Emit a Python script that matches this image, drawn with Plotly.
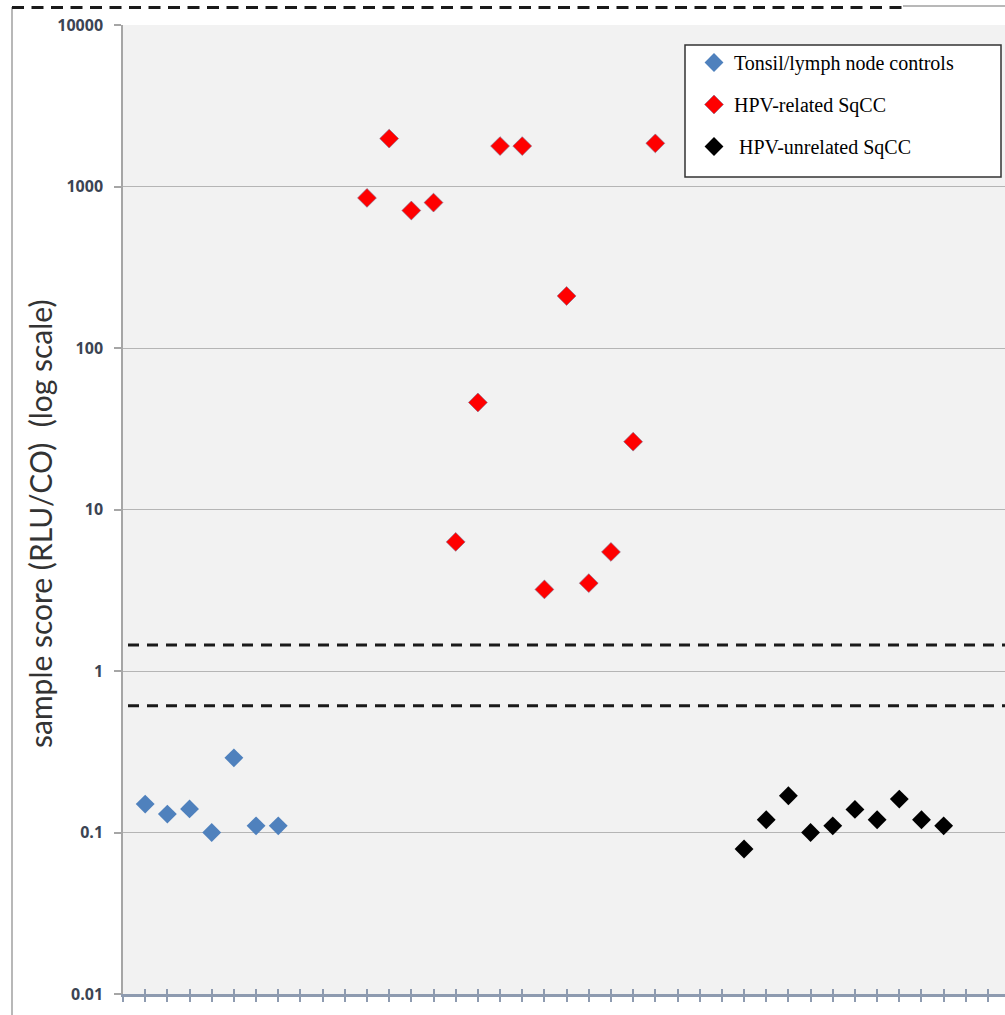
import plotly.graph_objects as go

# ---------------- data ----------------
ctrl_name = "Tonsil/lymph node controls"
ctrl_x = [1, 2, 3, 4, 5, 6, 7]
ctrl_y = [0.15, 0.13, 0.14, 0.10, 0.29, 0.11, 0.11]

hpv_name = "HPV-related SqCC"
hpv_x = [11, 12, 13, 14, 15, 16, 17, 18, 19, 20, 21, 22, 23, 24]
hpv_y = [850, 1980, 710, 795, 6.3, 46, 1780, 1780, 3.2, 210, 3.5, 5.46, 26.3, 1850]

neg_name = "\u00a0HPV-unrelated SqCC"
neg_x = [28, 29, 30, 31, 32, 33, 34, 35, 36, 37]
neg_y = [0.079, 0.12, 0.169, 0.10, 0.11, 0.139, 0.12, 0.161, 0.12, 0.11]

cutoffs = [1.45, 0.61]

ytick_vals = [0.01, 0.1, 1, 10, 100, 1000, 10000]
ytick_text = ["0.01", "0.1", "1", "10", "100", "1000", "10000"]
xtick_vals = list(range(0, 40))

y_title = "sample score (RLU/CO)\u00a0\u00a0(log scale)"

# ---------------- layout geometry ----------------
W, H = 1005, 1015
L, R, T, B = 123, 0, 25, 21
PW, PH = W - L - R, H - T - B
STEP = 22.18  # px per category


def px(xp):
    return (xp - L) / PW


def py(yp):
    return (H - B - yp) / PH


fig = go.Figure()

marker_size = 14.5
fig.add_trace(go.Scatter(x=ctrl_x, y=ctrl_y, mode="markers", name=ctrl_name,
                         legendgroup="a",
                         marker=dict(symbol="diamond", size=marker_size, color="#4f81bd")))
fig.add_trace(go.Scatter(x=hpv_x, y=hpv_y, mode="markers", name=hpv_name,
                         legendgroup="b",
                         marker=dict(symbol="diamond", size=marker_size, color="#ff0000",
                                     line=dict(width=0.6, color="#7a6a8a"))))
fig.add_trace(go.Scatter(x=neg_x, y=neg_y, mode="markers", name=neg_name,
                         legendgroup="c",
                         marker=dict(symbol="diamond", size=marker_size, color="#000000")))

# dummy trace on overlaid axis to get crossing ticks
fig.add_trace(go.Scatter(x=[0], y=[1], xaxis="x2", mode="markers",
                         marker=dict(opacity=0), showlegend=False, hoverinfo="skip"))

shapes = []
# cutoff dashed lines
for c in cutoffs:
    shapes.append(dict(type="line", xref="paper", yref="y", x0=px(128), x1=1.0,
                       y0=c, y1=c, line=dict(color="#1a1a1a", width=3, dash="11px,8px")))
# outer frame (left + top) and top dashed line
shapes.append(dict(type="line", xref="paper", yref="paper", x0=px(12), x1=px(12),
                   y0=py(7), y1=py(H), line=dict(color="#a0a0a0", width=1.5)))
shapes.append(dict(type="line", xref="paper", yref="paper", x0=px(903), x1=1.0,
                   y0=py(6), y1=py(6), line=dict(color="#a0a0a0", width=1.5)))
shapes.append(dict(type="line", xref="paper", yref="paper", x0=px(12), x1=px(903),
                   y0=py(7.5), y1=py(7.5), line=dict(color="#1a1a1a", width=3, dash="12px,7.5px")))
# legend box
shapes.append(dict(type="rect", xref="paper", yref="paper", x0=px(685), x1=px(1001),
                   y0=py(177), y1=py(45), fillcolor="white",
                   line=dict(color="#333333", width=1.5), layer="above"))

fig.update_layout(
    width=W, height=H,
    margin=dict(l=L, r=R, t=T, b=B, pad=0),
    paper_bgcolor="white",
    plot_bgcolor="#f2f2f2",
    showlegend=True,
    hovermode=False,
    shapes=shapes,
    legend=dict(x=px(694), y=py(43), xanchor="left", yanchor="top",
                bgcolor="rgba(0,0,0,0)", borderwidth=0,
                font=dict(family="Liberation Serif", size=20, color="black"),
                tracegroupgap=13, itemsizing="trace"),
    xaxis=dict(range=[0, PW / STEP], tickvals=xtick_vals, showticklabels=False,
               ticks="outside", ticklen=5, tickwidth=1.5, tickcolor="#8e9bb0",
               showline=True, linecolor="#8e9bb0", linewidth=2.5,
               showgrid=False, zeroline=False),
    xaxis2=dict(range=[0, PW / STEP], tickvals=xtick_vals, showticklabels=False,
                overlaying="x", anchor="y",
                ticks="inside", ticklen=5, tickwidth=1.5, tickcolor="#8e9bb0",
                showline=False, showgrid=False, zeroline=False),
    yaxis=dict(type="log", range=[-2, 4], tickvals=ytick_vals, ticktext=ytick_text,
               ticks="outside", ticklen=7, tickwidth=2, tickcolor="#a6a6a6",
               showline=True, linecolor="#a6a6a6", linewidth=1.5,
               showgrid=True, gridcolor="#b5b5b5", gridwidth=1, zeroline=False,
               tickfont=dict(family="Open Sans", size=16, color="#3b4453", weight="bold"),
               ticklabelstandoff=8),
    annotations=[dict(text=y_title, textangle=-90, xref="paper", yref="paper",
                      x=px(40), y=py(524), xanchor="center", yanchor="middle",
                      showarrow=False,
                      font=dict(family="Lato", size=30, color="#333333"))],
)

fig.write_html("out.html", config={"displayModeBar": False},
               post_script="document.body.style.margin='0';")
